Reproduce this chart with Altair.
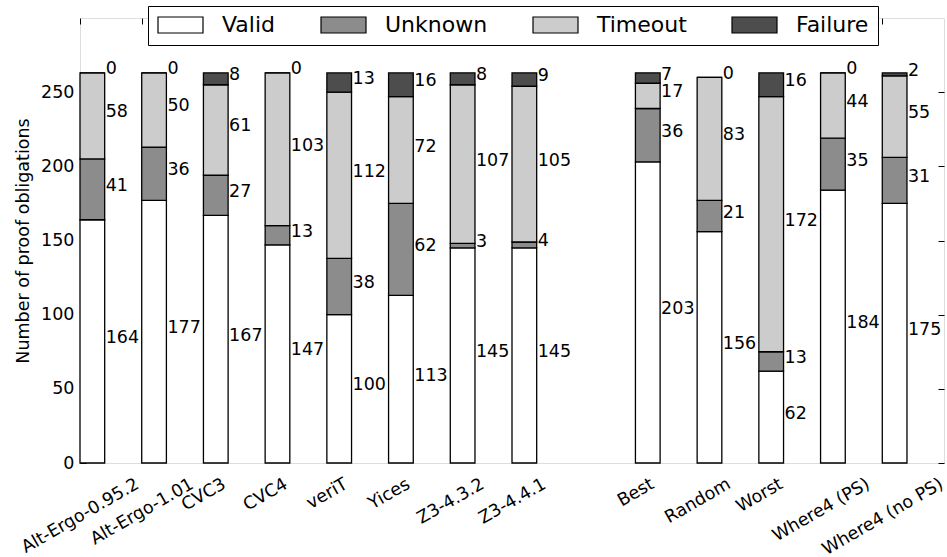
import altair as alt
import pandas as pd

# ---- data ----
solvers = ["Alt-Ergo-0.95.2", "Alt-Ergo-1.01", "CVC3", "CVC4", "veriT", "Yices", "Z3-4.3.2", "Z3-4.4.1"]
strategies = ["Best", "Random", "Worst", "Where4 (PS)", "Where4 (no PS)"]
statuses = ["Valid", "Unknown", "Timeout", "Failure"]
valid = [164, 177, 167, 147, 100, 113, 145, 145, 203, 156, 62, 184, 175]
unknown = [41, 36, 27, 13, 38, 62, 3, 4, 36, 21, 13, 35, 31]
timeout = [58, 50, 61, 103, 112, 72, 107, 105, 17, 83, 172, 44, 55]
failure = [0, 0, 8, 0, 13, 16, 8, 9, 7, 0, 16, 0, 2]
y_ticks = [0, 50, 100, 150, 200, 250]

# ---- styling / layout ----
colors = ["#ffffff", "#8c8c8c", "#cccccc", "#4d4d4d"]
W, H = 864, 445
XMAX = 14
BAR_W = 0.4
PX = W / XMAX
FS = 17.5
FONT = "DejaVu Sans"

# DejaVu Sans advance widths (em) used to centre the rotated tick labels
ADV = {"A": .684, "l": .278, "t": .392, "-": .361, "E": .632, "r": .411, "g": .635, "o": .612,
       ".": .318, "C": .698, "V": .684, "v": .592, "e": .615, "i": .278, "T": .611, "Y": .611,
       "c": .550, "s": .521, "Z": .685, "B": .686, "R": .695, "a": .613, "n": .634, "d": .635,
       "m": .974, "W": .989, "h": .634, " ": .318, "(": .390, ")": .390, "P": .603, "S": .635}
for dch in "0123456789":
    ADV[dch] = .636


def text_width(s, fs):
    return sum(ADV.get(ch, .6) for ch in s) * fs


names = solvers + strategies
positions = list(range(len(solvers))) + [len(solvers) + 1 + i for i in range(len(strategies))]

rows = []
series = [valid, unknown, timeout, failure]
for i, name in enumerate(names):
    lo = 0
    for st, vals in zip(statuses, series):
        v = vals[i]
        rows.append({"name": name, "status": st, "value": v, "lo": lo, "hi": lo + v,
                     "mid": lo + v / 2, "x0": positions[i], "x1": positions[i] + BAR_W})
        lo += v
seg = pd.DataFrame(rows)

# rotated labels are centred on their tick (matplotlib style): right end = tick + cos30*L/2
lab = pd.DataFrame({
    "name": names,
    "lx": [p + (0.433 * text_width(n, FS) + 0.5) / PX for p, n in zip(positions, names)],
})

xscale = alt.Scale(domain=[0, XMAX], nice=False, zero=False)
yscale = alt.Scale(domain=[0, 300], nice=False)

bars = alt.Chart(seg).mark_rect(stroke="black", strokeWidth=1.3).encode(
    x=alt.X("x0:Q", scale=xscale, axis=None),
    x2="x1:Q",
    y=alt.Y("lo:Q", scale=yscale,
            axis=alt.Axis(orient="left", values=y_ticks, domain=False, ticks=True, tickSize=6,
                          offset=-6, tickColor="black", tickWidth=1, labelPadding=6,
                          labelFontSize=FS, labelColor="black", labelFont=FONT,
                          title="Number of proof obligations", titleFontSize=FS,
                          titleFontWeight="normal", titleColor="black", titleFont=FONT,
                          titlePadding=8, grid=False)),
    y2="hi:Q",
    fill=alt.Fill("status:N", sort=statuses,
                  scale=alt.Scale(domain=statuses, range=colors),
                  legend=alt.Legend(orient="none", legendX=68, legendY=-12, direction="horizontal",
                                    columns=4, title=None, fillColor="white", strokeColor="black",
                                    padding=9, labelFontSize=22, labelFont=FONT, labelColor="black",
                                    labelOffset=18, columnPadding=44,
                                    symbolType="M-1,-0.356H1V0.356H-1Z", symbolSize=2025,
                                    symbolStrokeColor="black", symbolStrokeWidth=1.2,
                                    symbolOpacity=1, clipHeight=20)),
)

ann = alt.Chart(seg).mark_text(align="left", baseline="middle", dx=1, dy=-3.5, fontSize=FS,
                               font=FONT, color="black").encode(
    x=alt.X("x1:Q", scale=xscale,
            axis=alt.Axis(orient="top", values=positions, labels=False, domain=False, ticks=True,
                          tickSize=6, offset=-6, tickColor="black", tickWidth=1, title=None,
                          grid=False)),
    y=alt.Y("mid:Q", scale=yscale,
            axis=alt.Axis(orient="right", values=y_ticks, labels=False, domain=False, ticks=True,
                          tickSize=6, offset=-6, tickColor="black", tickWidth=1, title=None,
                          grid=False)),
    text="value:Q",
)

xlabels = alt.Chart(lab).mark_text(align="right", baseline="middle", angle=330, fontSize=FS,
                                   font=FONT, color="black").encode(
    x=alt.X("lx:Q", scale=xscale, axis=None),
    y=alt.value(H + 20),
    text="name:N",
)

chart = alt.layer(bars, ann, xlabels).resolve_axis(x="independent", y="independent").properties(
    width=W, height=H,
    autosize=alt.AutoSizeParams(type="none"),
    padding={"left": 80, "top": 18, "right": 3, "bottom": 94},
).configure_view(stroke="black", strokeWidth=1.5).configure_legend(strokeWidth=1.3).configure(
    font=FONT, background="white")

chart.save("out.html", embed_options={"renderer": "svg", "actions": False})
